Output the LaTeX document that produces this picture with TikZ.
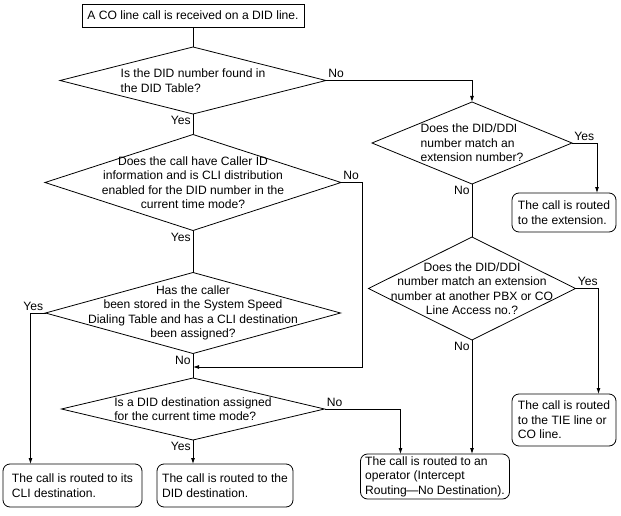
\documentclass[tikz,border=0pt]{standalone}
\usepackage{fontspec}
\setmainfont{Liberation Sans}
\usetikzlibrary{shapes.geometric,arrows.meta}
\begin{document}
\begin{tikzpicture}[x=1pt,y=-1pt,line width=0.8pt,
        font=\fontsize{12.1}{14.5}\selectfont,
        decision/.style={diamond,draw,inner sep=0pt,outer sep=0pt},
        result/.style={draw,rounded corners=7pt,align=left,inner sep=0pt,outer sep=0pt},
        arr/.style={-{Latex[length=6pt,width=4pt]}},
        ans/.style={inner sep=2pt}]
        \useasboundingbox (0,0) rectangle (621,516);
        \node[draw,minimum width=222pt,minimum height=23pt,inner sep=0pt,outer sep=0pt] (start) at (193,15.5) {A CO line call is received on a DID line.};
        % left column
        \node[decision,minimum width=266pt,minimum height=67pt,
            label={[align=left]center:{Is the DID number found in\\the DID Table?}}] (d1) at (193,80.5) {};
        \node[decision,minimum width=296pt,minimum height=96pt,
            label={[align=center]center:{Does the call have Caller ID\\information and is CLI distribution\\enabled for the DID number in the\\current time mode?}}] (d2) at (193,182.5) {};
        \node[decision,minimum width=295pt,minimum height=81pt,
            label={[align=center]center:{Has the caller\\been stored in the System Speed\\Dialing Table and has a CLI destination\\been assigned?}}] (d3) at (193,313) {};
        \node[decision,minimum width=263pt,minimum height=62pt,
            label={[align=left]center:{Is a DID destination assigned\\for the current time mode?}}] (d4) at (193,409) {};
        % right column
        \node[decision,minimum width=200pt,minimum height=82pt,
            label={[align=left]center:{Does the DID/DDI\\number match an\\extension number?}}] (d5) at (472,143) {};
        \node[decision,minimum width=207pt,minimum height=103pt,
            label={[align=center]center:{Does the DID/DDI\\number match an extension\\number at another PBX or CO\\Line Access no.?}}] (d6) at (472,288.5) {};
        % results
        \node[result,minimum width=139pt,minimum height=43pt] (cli) at (72.5,485.5) {The call is routed to its\\CLI destination.};
        \node[result,minimum width=136pt,minimum height=43pt] (did) at (225,485.5) {The call is routed to the\\DID destination.};
        \node[result,minimum width=149pt,minimum height=45pt] (op) at (435,476.5) {The call is routed to an\\operator (Intercept\\Routing\kern-0.5pt—\kern-0.5pt No Destination).};
        \node[result,minimum width=104pt,minimum height=52pt] (tie) at (564,420) {The call is routed\\to the TIE line or\\CO line.};
        \node[result,minimum width=104pt,minimum height=39pt] (ext) at (564,212.5) {The call is routed\\to the extension.};
        % connectors
        \draw (start.south) -- (d1.north);
        \draw (d1.south) -- (d2.north) node[ans,anchor=north east,pos=0] {Yes};
        \draw[arr] (d1.east) -| (d5.north) node[ans,anchor=south west,pos=0] {No};
        \draw (d2.south) -- (d3.north) node[ans,anchor=north east,pos=0] {Yes};
        \draw[arr] (d2.east) -- ++(21,0) coordinate (c2) -- (c2 |- 0,367) -- (d3.south |- 0,367);
        \node[ans,anchor=south west] at (d2.east) {No};
        \draw (d3.south) -- (d4.north) node[ans,anchor=north east,pos=0] {No};
        \draw[arr] (d3.west) -- ++(-15,0) coordinate (c3) -- (c3 |- cli.north);
        \node[ans,anchor=south east] at (d3.west) {Yes};
        \draw[arr] (d4.south) -- (d4.south |- did.north) node[ans,anchor=north east,pos=0] {Yes};
        \draw[arr] (d4.east) -- ++(76,0) coordinate (c4) -- (c4 |- op.north);
        \node[ans,anchor=south west] at (d4.east) {No};
        \draw[arr] (d5.east) -- ++(25,0) coordinate (c5) -- (c5 |- ext.north);
        \node[ans,anchor=south west] at (d5.east) {Yes};
        \draw (d5.south) -- (d6.north) node[ans,anchor=north east,pos=0] {No};
        \draw[arr] (d6.east) -- ++(23,0) coordinate (c6) -- (c6 |- tie.north);
        \node[ans,anchor=south west] at (d6.east) {Yes};
        \draw[arr] (d6.south) -- (d6.south |- op.north) node[ans,anchor=north east,pos=0] {No};
    \end{tikzpicture}
\end{document}
